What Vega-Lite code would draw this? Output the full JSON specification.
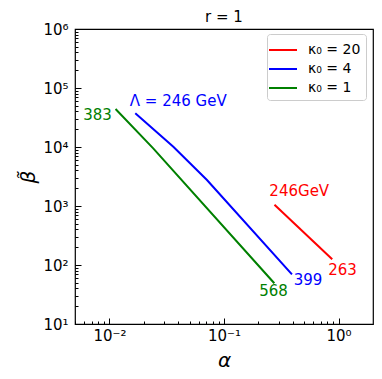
{
  "$schema": "https://vega.github.io/schema/vega-lite/v6.json",
  "autosize": "none",
  "width": 298,
  "height": 295,
  "padding": {"left": 75, "top": 29, "right": 9, "bottom": 55},
  "config": {
    "font": "DejaVu Sans",
    "view": {"stroke": "black", "strokeWidth": 1.2},
    "axis": {"domain": false, "grid": false, "tickColor": "black", "labelColor": "black", "titleColor": "black", "labelFont": "DejaVu Sans", "titleFont": "DejaVu Sans"}
  },
  "title": {"text": "r = 1", "fontSize": 15, "fontWeight": "normal", "font": "DejaVu Sans", "color": "black", "offset": -3},
  "datasets": {
    "lines": [
      {"series": "κ₀ = 20", "alpha": 0.276, "beta": 1052},
      {"series": "κ₀ = 20", "alpha": 0.881, "beta": 125},
      {"series": "κ₀ = 4", "alpha": 0.0168, "beta": 37200},
      {"series": "κ₀ = 4", "alpha": 0.0361, "beta": 10100},
      {"series": "κ₀ = 4", "alpha": 0.0710, "beta": 2760},
      {"series": "κ₀ = 4", "alpha": 0.392, "beta": 69.5},
      {"series": "κ₀ = 1", "alpha": 0.0113, "beta": 44000},
      {"series": "κ₀ = 1", "alpha": 0.0241, "beta": 9500},
      {"series": "κ₀ = 1", "alpha": 0.275, "beta": 49}
    ],
    "labels": [
      {"series": "κ₀ = 4", "alpha": 0.01506, "beta": 49500, "label": "Λ = 246 GeV"},
      {"series": "κ₀ = 20", "alpha": 0.249, "beta": 1476, "label": "246GeV"},
      {"series": "κ₀ = 20", "alpha": 0.813, "beta": 67.8, "label": "263"},
      {"series": "κ₀ = 4", "alpha": 0.406, "beta": 45.8, "label": "399"},
      {"series": "κ₀ = 1", "alpha": 0.203, "beta": 30.2, "label": "568"}
    ],
    "rlabels": [
      {"series": "κ₀ = 1", "alpha": 0.0105, "beta": 28700, "label": "383"}
    ]
  },
  "layer": [
    {
      "data": {"name": "lines"},
      "mark": {"type": "line", "strokeWidth": 2, "clip": true},
      "encoding": {
        "x": {"field": "alpha", "type": "quantitative",
          "scale": {"type": "log", "domain": [0.005, 2], "nice": false},
          "axis": {"values": [0.005, 0.006, 0.007, 0.008, 0.009, 0.01, 0.02, 0.03, 0.04, 0.05, 0.06, 0.07, 0.08, 0.09, 0.1, 0.2, 0.3, 0.4, 0.5, 0.6, 0.7, 0.8, 0.9, 1],
            "labelExpr": "abs(datum.value - 0.01) < 1e-9 ? '10⁻²' : abs(datum.value - 0.1) < 1e-9 ? '10⁻¹' : abs(datum.value - 1) < 1e-9 ? '10⁰' : ''",
            "tickSize": {"condition": {"test": "abs(log(datum.value)/LN10 - round(log(datum.value)/LN10)) < 1e-6", "value": -6}, "value": -3},
            "labelPadding": 10, "labelFontSize": 15, "labelOverlap": false, "title": "α", "titleFontSize": 20, "titleFontStyle": "italic", "titleFontWeight": "normal", "titlePadding": 4}},
        "y": {"field": "beta", "type": "quantitative",
          "scale": {"type": "log", "domain": [10, 1000000], "nice": false},
          "axis": {"values": [10, 20, 30, 40, 50, 60, 70, 80, 90, 100, 200, 300, 400, 500, 600, 700, 800, 900, 1000, 2000, 3000, 4000, 5000, 6000, 7000, 8000, 9000, 10000, 20000, 30000, 40000, 50000, 60000, 70000, 80000, 90000, 100000, 200000, 300000, 400000, 500000, 600000, 700000, 800000, 900000, 1000000],
            "labelExpr": "datum.value == 10 ? '10¹' : datum.value == 100 ? '10²' : datum.value == 1000 ? '10³' : datum.value == 10000 ? '10⁴' : datum.value == 100000 ? '10⁵' : datum.value == 1000000 ? '10⁶' : ''",
            "tickSize": {"condition": {"test": "abs(log(datum.value)/LN10 - round(log(datum.value)/LN10)) < 1e-6", "value": -6}, "value": -3},
            "labelPadding": 13, "labelFontSize": 15, "labelOverlap": false, "title": "β̃", "titleFontSize": 20, "titleFontStyle": "italic", "titleFontWeight": "normal", "titlePadding": 4}},
        "color": {"field": "series", "type": "nominal",
          "scale": {"domain": ["κ₀ = 20", "κ₀ = 4", "κ₀ = 1"], "range": ["#ff0000", "#0000ff", "#008000"]},
          "legend": {"title": null, "orient": "none", "legendX": 192, "legendY": 5, "symbolType": "M-1.4,0H1.4", "symbolSize": 400, "symbolStrokeWidth": 2, "labelFontSize": 14, "labelColor": "black", "labelFont": "DejaVu Sans", "labelOffset": 14, "fillColor": "white", "strokeColor": "#cccccc", "cornerRadius": 3, "padding": 5, "rowPadding": 1}}
      }
    },
    {
      "data": {"name": "labels"},
      "mark": {"type": "text", "align": "left", "baseline": "alphabetic", "fontSize": 15, "font": "DejaVu Sans"},
      "encoding": {
        "x": {"field": "alpha", "type": "quantitative"},
        "y": {"field": "beta", "type": "quantitative"},
        "text": {"field": "label"},
        "color": {"field": "series", "type": "nominal", "scale": {"domain": ["κ₀ = 20", "κ₀ = 4", "κ₀ = 1"], "range": ["#ff0000", "#0000ff", "#008000"]}, "legend": null}
      }
    },
    {
      "data": {"name": "rlabels"},
      "mark": {"type": "text", "align": "right", "baseline": "alphabetic", "fontSize": 15, "font": "DejaVu Sans"},
      "encoding": {
        "x": {"field": "alpha", "type": "quantitative"},
        "y": {"field": "beta", "type": "quantitative"},
        "text": {"field": "label"},
        "color": {"field": "series", "type": "nominal", "scale": {"domain": ["κ₀ = 20", "κ₀ = 4", "κ₀ = 1"], "range": ["#ff0000", "#0000ff", "#008000"]}, "legend": null}
      }
    }
  ],
  "resolve": {"scale": {"color": "independent"}, "legend": {"color": "independent"}}
}
